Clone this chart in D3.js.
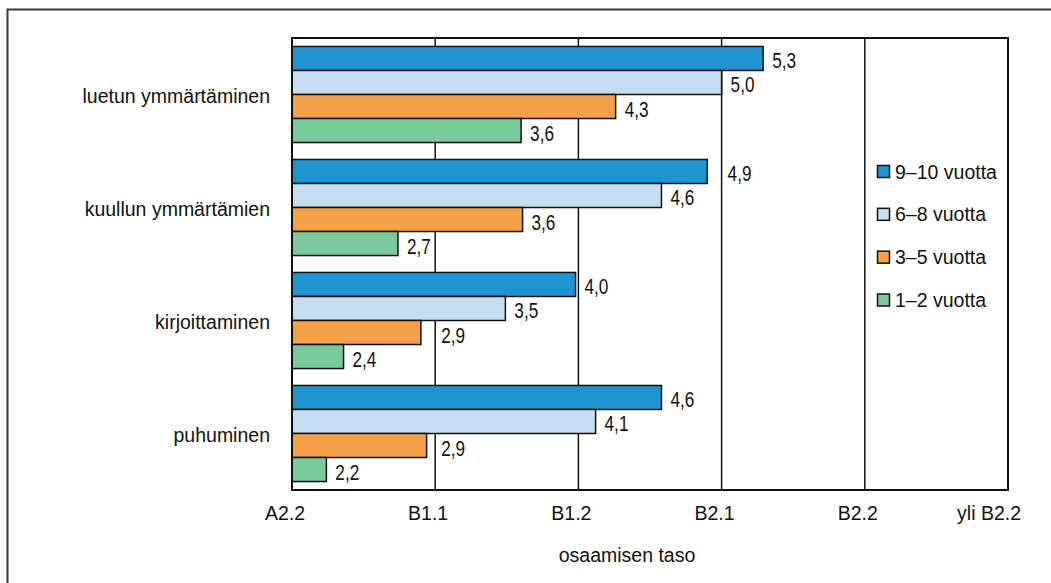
<!DOCTYPE html>
<html>
<head>
<meta charset="utf-8">
<script src="https://cdn.jsdelivr.net/npm/d3@7"></script>
<style>
  html, body { margin: 0; padding: 0; background: #fff; }
  svg { display: block; }
  text { font-family: "Liberation Sans", Arial, sans-serif; fill: #111; }
</style>
</head>
<body>
<svg id="chart" width="1051" height="583"></svg>
<script>
const categories = ["luetun ymmärtäminen", "kuullun ymmärtämien", "kirjoittaminen", "puhuminen"];
const seriesNames = ["9–10 vuotta", "6–8 vuotta", "3–5 vuotta", "1–2 vuotta"];
const values9to10 = [5.29, 4.90, 3.98, 4.58];
const values6to8  = [5.00, 4.58, 3.49, 4.12];
const values3to5  = [4.26, 3.61, 2.90, 2.94];
const values1to2  = [3.60, 2.74, 2.36, 2.24];
const seriesColors = ["#2094d2", "#c6ddf1", "#f3a047", "#7bca9c"];
const tickValues = [2, 3, 4, 5, 6, 7];
const tickLabels = ["A2.2", "B1.1", "B1.2", "B2.1", "B2.2", "yli B2.2"];
const axisTitle = "osaamisen taso";

const seriesValues = [values9to10, values6to8, values3to5, values1to2];

const svg = d3.select("#chart");
const margin = {left: 292, top: 38, right: 1008, bottom: 490};

// outer frame (extends past the viewport on right and bottom)
svg.append("rect")
  .attr("x", 7.5).attr("y", 9.5).attr("width", 1080).attr("height", 620)
  .attr("fill", "none").attr("stroke", "#3a3a3a").attr("stroke-width", 2);

const x = d3.scaleLinear().domain([2, 7]).range([margin.left, margin.right]);
const y = d3.scaleBand().domain(categories).range([margin.top, margin.bottom])
  .paddingInner(0.15).paddingOuter(0.075);
const ySub = d3.scaleBand().domain(d3.range(seriesNames.length)).range([0, y.bandwidth()]);

// gridlines
const gridTicks = tickValues.slice(1, -1);
svg.append("g").selectAll("line").data(gridTicks).join("line")
  .attr("x1", d => x(d)).attr("x2", d => x(d))
  .attr("y1", margin.top).attr("y2", margin.bottom)
  .attr("stroke", "#111").attr("stroke-width", 1.5);

// bars
const barData = [];
categories.forEach((c, ci) => {
  seriesValues.forEach((vals, si) => {
    barData.push({cat: c, s: si, v: vals[ci]});
  });
});

svg.append("g").selectAll("rect").data(barData).join("rect")
  .attr("x", x(2))
  .attr("y", d => y(d.cat) + ySub(d.s))
  .attr("width", d => x(d.v) - x(2))
  .attr("height", ySub.bandwidth())
  .attr("fill", d => seriesColors[d.s])
  .attr("stroke", "#111").attr("stroke-width", 1.5);

// value labels
const fmt = v => d3.format(".1f")(v).replace(".", ",");
const labelW = 24;
svg.append("g").selectAll("text").data(barData).join("text")
  .attr("transform", d => {
    let lx = x(d.v) + 9;
    gridTicks.forEach(g => {
      const gx = x(g);
      if (gx >= lx - 3 && gx <= lx + labelW) lx = gx + 6;
    });
    const ly = y(d.cat) + ySub(d.s) + ySub.bandwidth() / 2 + 10;
    return `translate(${lx},${ly}) scale(0.78,1)`;
  })
  .attr("font-size", 22)
  .text(d => fmt(d.v));

// plot frame
svg.append("rect")
  .attr("x", margin.left).attr("y", margin.top)
  .attr("width", margin.right - margin.left).attr("height", margin.bottom - margin.top)
  .attr("fill", "none").attr("stroke", "#111").attr("stroke-width", 2);

// x axis labels
const xAxis = d3.axisBottom(x).tickValues(tickValues).tickSize(0)
  .tickFormat((d, i) => tickLabels[i]);
const gx = svg.append("g").attr("transform", `translate(0,${margin.bottom})`).call(xAxis);
gx.select(".domain").remove();
gx.selectAll("text")
  .attr("font-family", "Liberation Sans, Arial, sans-serif")
  .attr("font-size", 19.5)
  .attr("fill", "#111")
  .attr("text-anchor", "end")
  .attr("x", 12.5)
  .attr("y", 30)
  .attr("dy", 0);

// category labels
const yAxis = d3.axisLeft(y).tickSize(0);
const gy = svg.append("g").attr("transform", `translate(270,0)`).call(yAxis);
gy.select(".domain").remove();
gy.selectAll("text")
  .attr("font-family", "Liberation Sans, Arial, sans-serif")
  .attr("font-size", 19.5)
  .attr("fill", "#111")
  .attr("text-anchor", "end")
  .attr("x", 0)
  .attr("dy", 0)
  .attr("y", 8);

// axis title
svg.append("text")
  .attr("x", 627).attr("y", 562)
  .attr("text-anchor", "middle")
  .attr("font-size", 19.5)
  .text(axisTitle);

// legend
const legend = svg.append("g");
const legendY = d3.scalePoint().domain(d3.range(seriesNames.length)).range([171.5, 300]);
const items = legend.selectAll("g").data(seriesNames).join("g")
  .attr("transform", (d, i) => `translate(877,${legendY(i)})`);
items.append("rect")
  .attr("x", 0.5).attr("y", -6).attr("width", 12).attr("height", 12)
  .attr("fill", (d, i) => seriesColors[i])
  .attr("stroke", "#111").attr("stroke-width", 1.5);
items.append("text")
  .attr("x", 18).attr("y", 7)
  .attr("font-size", 19.5)
  .text(d => d);
</script>
</body>
</html>
